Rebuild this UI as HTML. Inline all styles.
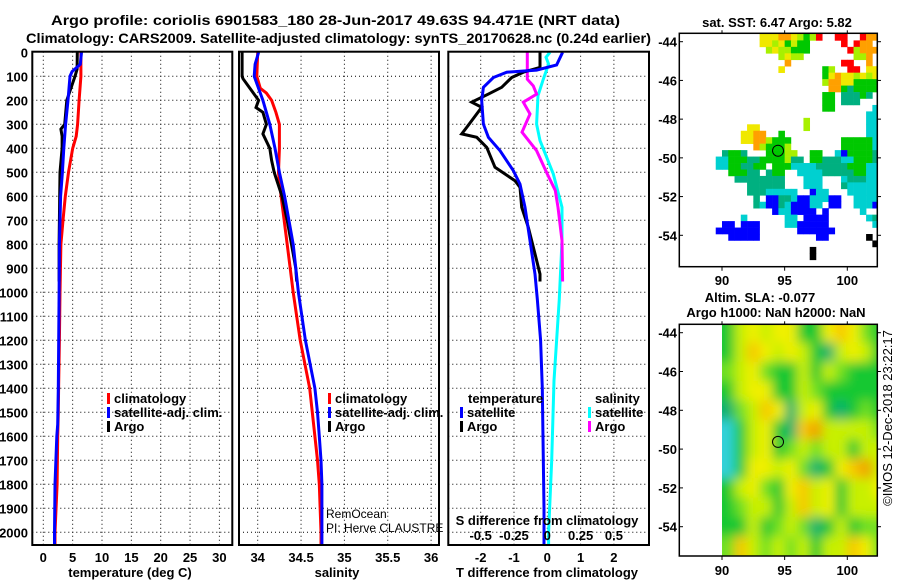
<!DOCTYPE html>
<html><head><meta charset="utf-8"><style>
html,body{margin:0;padding:0;background:#fff;}
svg{display:block;font-family:"Liberation Sans",Arial,sans-serif;}
.b{font-weight:bold;font-size:13px;}
</style></head><body>
<svg id="fig" width="900" height="580" viewBox="0 0 900 580" xmlns="http://www.w3.org/2000/svg">
<defs>
<clipPath id="c1"><rect x="32.3" y="51.7" width="200" height="493.3"/></clipPath>
<clipPath id="c2"><rect x="239" y="51.7" width="200" height="493.3"/></clipPath>
<clipPath id="c3"><rect x="448.3" y="51.7" width="200.7" height="493.3"/></clipPath>
<clipPath id="cm1"><rect x="679.3" y="33.3" width="198" height="233.4"/></clipPath>
<clipPath id="cm2"><rect x="722" y="324.3" width="155.3" height="231.7"/></clipPath>
<filter id="blur" filterUnits="userSpaceOnUse" x="690" y="290" width="220" height="300"><feGaussianBlur stdDeviation="5.5"/></filter>
</defs>
<text x="51" y="25" textLength="569" lengthAdjust="spacingAndGlyphs" style="font-weight:bold;font-size:14px">Argo profile: coriolis 6901583_180 28-Jun-2017 49.63S 94.471E (NRT data)</text>
<text x="26" y="43" textLength="625" lengthAdjust="spacingAndGlyphs" style="font-weight:bold;font-size:14px">Climatology: CARS2009. Satellite-adjusted climatology: synTS_20170628.nc (0.24d earlier)</text>
<g id="g"></g>
</svg>
<script>
// ---- profile data (pressure dbar, value) ----
var climP = [0,100,200,300,350,400,500,600,700,800,1000,1200,1400,1500,1600,1800,2000,2050];
var climT = [6.4,6.4,6.1,5.85,5.6,5.0,4.3,3.75,3.35,3.0,2.85,2.75,2.6,2.55,2.45,2.35,2.0,2.0];
var satP = [0,50,80,100,200,300,400,500,600,800,1000,1400,1550,1600,1800,2000,2050];
var satT = [6.5,6.3,4.9,4.55,4.2,3.8,3.5,3.25,2.95,2.75,2.7,2.55,2.45,2.3,2.0,1.9,1.9];
var argoP = [0,70,100,200,300,320,350,400,500,600,700,800,900,955];
var argoT = [5.8,5.75,5.4,4.0,3.65,3.0,3.2,3.2,2.85,2.8,2.75,2.7,2.7,2.7];
var climSP = [0,100,150,170,200,250,300,400,500,600,800,1000,1200,1400,1500,1600,1700,1800,2000,2050];
var climS = [34.0,33.99,34.03,34.1,34.16,34.21,34.25,34.25,34.24,34.27,34.34,34.41,34.49,34.6,34.63,34.66,34.69,34.71,34.73,34.73];
var satSP = [0,50,100,130,200,300,400,500,600,800,1000,1200,1400,1500,1600,1700,1800,2000,2050];
var satS = [34.01,33.97,33.96,33.99,34.06,34.14,34.2,34.25,34.31,34.41,34.47,34.55,34.66,34.69,34.71,34.73,34.74,34.74,34.74];
var argoSP = [0,100,110,150,200,230,250,300,340,400,450,500,600,700,800,900,955];
var argoS = [33.82,33.82,33.83,33.91,34.01,33.98,34.06,34.1,34.06,34.14,34.16,34.19,34.28,34.34,34.39,34.44,34.45];
// differences
var dTsatP = [0,53,74,83,105,146,202,299,354,410,493,549,646,785,924,1028,1200,1400,1900,2050];
var dTsat = [0.46,0.28,-0.32,-1.22,-1.62,-1.92,-1.97,-1.92,-1.77,-1.42,-1.02,-0.82,-0.67,-0.52,-0.37,-0.3,-0.2,-0.15,-0.1,-0.1];
var dTargoP = [0,63,83,105,146,174,208,229,313,340,354,396,479,535,563,646,729,840,924,955];
var dTargo = [-0.22,-0.22,-0.72,-1.07,-1.37,-1.77,-2.27,-1.97,-2.42,-2.57,-2.12,-1.82,-1.57,-0.97,-0.82,-0.77,-0.57,-0.37,-0.22,-0.22];
var dSsatP = [0,21,49,112,181,299,368,507,646,785,1028,1368,1700,2000,2050];
var dSsat = [0.02,-0.01,0.01,-0.03,-0.07,-0.08,-0.055,0.045,0.11,0.11,0.09,0.05,0.033,0.01,0.01];
var dSargoP = [0,112,140,174,208,257,333,410,507,576,646,785,955];
var dSargo = [-0.15,-0.15,-0.105,-0.08,-0.18,-0.13,-0.19,-0.08,0,0.06,0.08,0.11,0.115];
// ticks
var pTicks = [0,100,200,300,400,500,600,700,800,900,1000,1100,1200,1300,1400,1500,1600,1700,1800,1900,2000];
var tTicks = [0,5,10,15,20,25,30];
var sTicks = [34,34.5,35,35.5,36];
var sTickLabels = ["34","34.5","35","35.5","36"];
var dTTicks = [-2,-1,0,1,2];
var dSTicks = [-0.5,-0.25,0,0.25,0.5];
var dSTickLabels = ["-0.5","-0.25","0","0.25","0.5"];
var latTicks = [-44,-46,-48,-50,-52,-54];
var lonTicks = [90,95,100];
// SST map: rows from lat -43.6 step 1/3 deg, cols from lon 89.5 step 0.5 deg
var sstRows = [
"       yyyooylglr  rr  roo",
"       yylygvgg     r roo ",
"        lyllggg      rlooo",
"          lyll        llo ",
"           o        rr  o ",
"          y      gl  rr yy",
"                 gyoyylyly",
"                 looyyggggg",
"                  oogtgggg",
"                 gg tttgt ",
"                 gg ttt   ",
"                 gg      c",
"                        cc",
"              l         cc",
"     yy       l         cc",
"    yyoo  g             cc",
"    yyoolggg        gggggc",
"      olgggl        gggggc",
" tggt   gggll  gg  cbggggt",
"ccgggttggggltt ggtttccgggt",
"ccggttgg gggcccctttttgggcc",
"  gggtt tgg  cccctttttggcc",
"   tttttttt   ccc   ctttcc",
"     tttttt   ccc   tccccc",
"     tttccccc  bcc   ccccc",
"      t bbttcbbcccbb  cccc",
"      tcbbtcbbbcc bb  cccb",
"         bccbbbb b     c  ",
"    c      cc bbbb      ct",
" bb bbb    ccbbbbb       c",
"bbbbbbb      bbbbbb       ",
"  bbbbb         bb      k ",
"                         k",
"               k          ",
"               k          ",
"                          "];
var sstColors = {r:"#ff0000",o:"#ffa000",y:"#f0e800",l:"#a8f000",v:"#c8f000",g:"#00c800",t:"#00b080",c:"#00d0d0",b:"#0000ff",k:"#000000"};
// SLA map: rows centred at lat -44,-45,...,-55; cols lon 90..102 (1 deg), value classes 0-7
var slaRows = [
[2,4,5,4,5,5,2,2,5,6,5,3,2],
[2,4,6,5,4,5,4,2,1,4,5,4,2],
[3,4,5,3,2,2,4,2,4,3,2,2,2],
[2,4,5,5,2,2,4,3,2,2,2,2,2],
[1,3,4,6,5,1,4,5,2,1,2,3,2],
[0,2,4,5,2,1,6,7,4,4,4,4,3],
[0,2,4,5,2,3,4,3,4,4,2,4,4],
[0,2,5,5,4,5,3,1,2,5,6,7,4],
[2,4,5,3,2,5,6,4,5,2,4,4,5],
[2,3,4,4,2,4,6,4,5,2,4,4,4],
[2,2,4,2,3,4,3,1,2,4,2,3,3],
[3,6,4,3,4,3,4,2,4,4,6,5,3]];
var slaColors = ["#30d0d8","#10b070","#18c830","#70e020","#c8f000","#f0f000","#f8c800","#f0a000"];
var argoLon = 94.471, argoLat = -49.63;

var NS="http://www.w3.org/2000/svg", G=document.getElementById("g");
function el(t,a,p){var e=document.createElementNS(NS,t);for(var k in a)e.setAttribute(k,a[k]);(p||G).appendChild(e);return e;}
function yP(p){return 52.3+p*0.24;}
function xT(t){return 43.3+t*5.87;}
function xS(s){return 257.7+(s-34)*86.7;}
function xdT(d){return 547.3+d*33.3;}
function xdS(d){return 547.3+d*133.3;}
function mX(lon){return 722+(lon-90)*12.53;}
function mY1(lat){return 41.7+(-44-lat)*19.36;}
function mY2(lat){return 332.7+(-44-lat)*19.4;}

var panels=[{x0:32.3,x1:232.3,vx:tTicks.map(xT),n:"temperature"},{x0:239,x1:439,vx:sTicks.map(xS),n:"salinity"},{x0:448.3,x1:649,vx:dTTicks.map(xdT),n:"difference"}];
panels.forEach(function(pn){
  var grid=el("g",{});
  
  
  pTicks.forEach(function(p){ if(p>0){el("line",{x1:pn.x0,x2:pn.x1,y1:yP(p),y2:yP(p),stroke:"#000","stroke-width":1,"stroke-dasharray":"1,3"},grid);}});
  pn.vx.forEach(function(x){el("line",{x1:x,x2:x,y1:51.7,y2:545,stroke:"#000","stroke-width":1,"stroke-dasharray":"1,3"},grid);});
});
function line(P,V,fx,color,clip,name){
  var pts=P.map(function(p,i){return fx(V[i]).toFixed(1)+","+yP(p).toFixed(1);}).join(" ");
  var e=el("polyline",{points:pts,fill:"none",stroke:color,"stroke-width":3,"clip-path":"url(#"+clip+")"});
  
  
}
line(climP,climT,xT,"#ff0000","c1","climatology-temperature-line");
line(argoP,argoT,xT,"#000000","c1","argo-temperature-line");
line(satP,satT,xT,"#0000ff","c1","satellite-temperature-line");
line(climSP,climS,xS,"#ff0000","c2","climatology-salinity-line");
line(argoSP,argoS,xS,"#000000","c2","argo-salinity-line");
line(satSP,satS,xS,"#0000ff","c2","satellite-salinity-line");
line(dSsatP,dSsat,xdS,"#00ffff","c3","satellite-salinity-diff-line");
line(dSargoP,dSargo,xdS,"#ff00ff","c3","argo-salinity-diff-line");
line(dTargoP,dTargo,xdT,"#000000","c3","argo-temperature-diff-line");
line(dTsatP,dTsat,xdT,"#0000ff","c3","satellite-temperature-diff-line");
panels.forEach(function(pn){
  var f=el("rect",{x:pn.x0,y:51.7,width:pn.x1-pn.x0,height:493.3,fill:"none",stroke:"#000","stroke-width":2});
  
  
});
function txt(x,y,s,cls,anchor,name,extra){
  var t=el("text",{x:x,y:y,"text-anchor":anchor||"start"});
  if(cls)t.setAttribute("class",cls);
  if(extra)for(var k in extra)t.setAttribute(k,extra[k]);
  t.textContent=s;
  
  
  return t;
}
pTicks.forEach(function(p){txt(28,yP(p)+5,String(p),"b","end","pressure-tick-label");});
tTicks.forEach(function(t){txt(xT(t),562,String(t),"b","middle","temperature-tick-label");});
sTicks.forEach(function(s,i){txt(xS(s),562,sTickLabels[i],"b","middle","salinity-tick-label");});
dTTicks.forEach(function(d){txt(xdT(d),562,String(d),"b","middle","t-diff-tick-label");});
dSTicks.forEach(function(d,i){txt(xdS(d),540,dSTickLabels[i],"b","middle","s-diff-tick-label");});
txt(130,577,"temperature (deg C)","b","middle","temperature-axis-title");
txt(337,577,"salinity","b","middle","salinity-axis-title");
txt(547,577,"T difference from climatology","b","middle","t-diff-axis-title");
txt(547,525,"S difference from climatology","b","middle","s-diff-axis-title");
function legend(mx,tx,y,color,label,name){
  var r=el("rect",{x:mx,y:y-5,width:3,height:11,fill:color});
  
  
  txt(tx,y+5,label,"b","start",name+'-label');
}
legend(107,114,398,"#ff0000","climatology","legend-climatology");
legend(107,114,412,"#0000ff","satellite-adj. clim.","legend-satellite");
legend(107,114,426,"#000000","Argo","legend-argo");
legend(328,335,398,"#ff0000","climatology","legend-climatology");
legend(328,335,412,"#0000ff","satellite-adj. clim.","legend-satellite");
legend(328,335,426,"#000000","Argo","legend-argo");
txt(468,403,"temperature","b","start","legend-temperature-heading");
legend(460,467,412,"#0000ff","satellite","legend-t-satellite");
legend(460,467,426,"#000000","Argo","legend-t-argo");
txt(595,403,"salinity","b","start","legend-salinity-heading");
legend(588,595,412,"#00ffff","satellite","legend-s-satellite");
legend(588,595,426,"#ff00ff","Argo","legend-s-argo");
txt(326,518,"RemOcean","","start","project-note",{"font-size":"12"});
txt(326,532,"PI: Herve CLAUSTRE","","start","pi-note",{"font-size":"12"});

// SST map
var m1=el("g",{"clip-path":"url(#cm1)"});
sstRows.forEach(function(row,j){
  for(var i=0;i<row.length;i++){var c=row[i]; if(sstColors[c]){
    var lon=89.5+i*0.5, lat=-43.6-j/3;
    var r=el("rect",{x:mX(lon),y:mY1(lat),width:12.53*0.5+0.3,height:19.36/3+0.3,fill:sstColors[c]},m1);
    
    
  }}
});
// SLA map
var m2o=el("g",{"clip-path":"url(#cm2)"});
var m2=el("g",{filter:"url(#blur)"},m2o);
slaRows.forEach(function(row,j){
  row.forEach(function(v,i){
    var lat=-43.5-j, lon=90+i;
    var x=mX(lon), y=mY2(lat), w=12.53, h=19.4;
    if(i==0){x-=12;w+=12;} if(i==row.length-1){w+=12;}
    if(j==0){y-=12;h+=12;} if(j==slaRows.length-1){h+=14;}
    var r=el("rect",{x:x,y:y,width:w+0.5,height:h+0.5,fill:slaColors[v]},m2);
    
    
  });
});
function mapAxes(yfn,top,bot,nm,labY){
  var f=el("rect",{x:679.3,y:top,width:198,height:bot-top,fill:"none",stroke:"#000","stroke-width":1.5});
  
  
  latTicks.forEach(function(l){var y=yfn(l);
    el("line",{x1:679.3,x2:683,y1:y,y2:y,stroke:"#000"});el("line",{x1:877.3,x2:881,y1:y,y2:y,stroke:"#000"});
    txt(677,y+5,String(l),"b","end",nm+'-lat-label');});
  lonTicks.forEach(function(l){var x=mX(l);
    el("line",{x1:x,x2:x,y1:bot,y2:bot+4,stroke:"#000"});el("line",{x1:x,x2:x,y1:top,y2:top-3,stroke:"#000"});
    txt(x,labY,String(l),"b","middle",nm+'-lon-label');});
  var c=el("circle",{cx:mX(argoLon),cy:yfn(argoLat),r:5.5,fill:"none",stroke:"#000","stroke-width":1});
  
  
}
mapAxes(mY1,33.3,266.7,"sst-map",285);
mapAxes(mY2,324.3,556,"sla-map",575);
txt(777,27,"sat. SST: 6.47 Argo: 5.82","b","middle","sst-map-title");
txt(760,302,"Altim. SLA: -0.077","b","middle","sla-map-title");
txt(776,317,"Argo h1000: NaN h2000: NaN","b","middle","sla-map-subtitle");
txt(0,0,"©IMOS 12-Dec-2018 23:22:17","","middle","imos-credit",{"font-size":"13","transform":"translate(892,418) rotate(-90)"});
</script>
</body></html>
